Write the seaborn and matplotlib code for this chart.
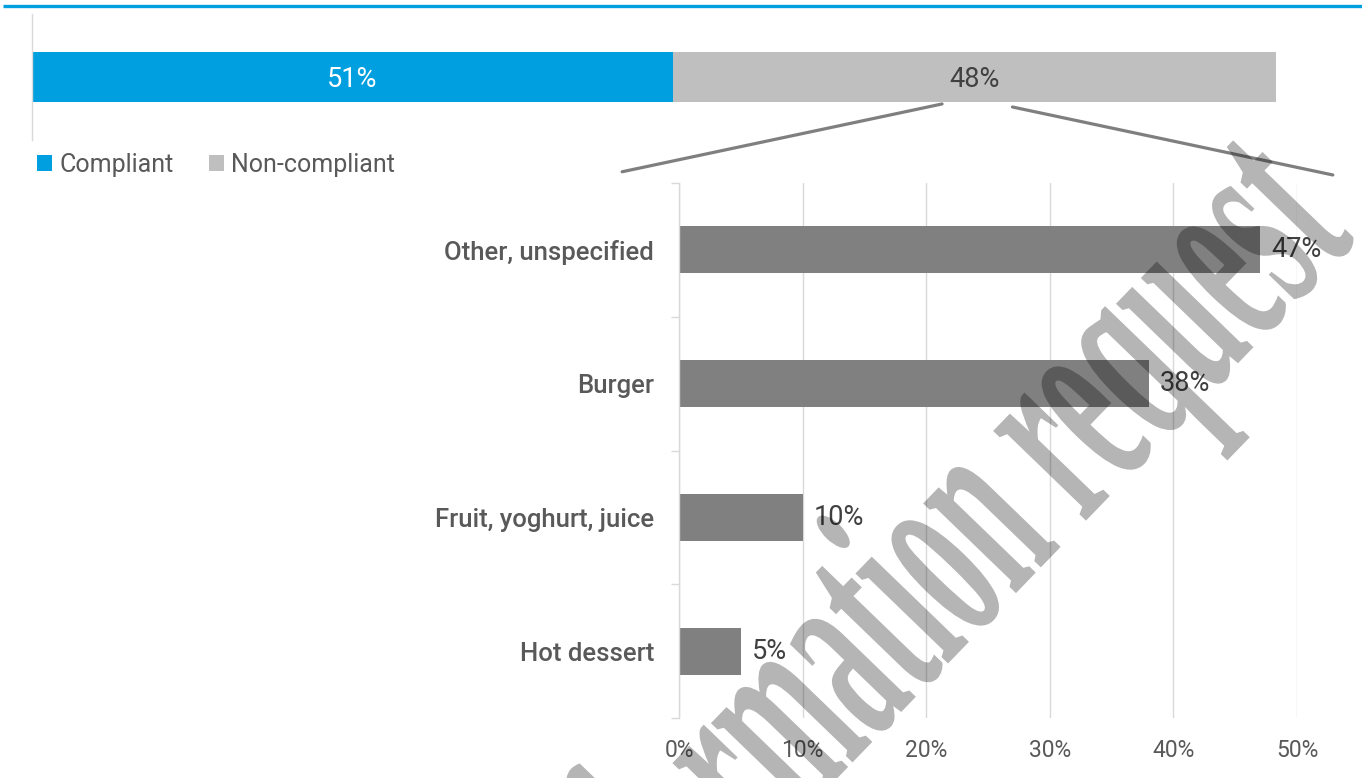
import matplotlib
matplotlib.use("Agg")
import matplotlib.pyplot as plt
import seaborn as sns
import pandas as pd
from matplotlib.patches import Patch, ConnectionPatch
from matplotlib.lines import Line2D
from matplotlib.ticker import FixedLocator, PercentFormatter
from matplotlib.transforms import Affine2D
from matplotlib.patheffects import AbstractPathEffect

# ---- data -------------------------------------------------------------
status_labels = ["Compliant", "Non-compliant"]
status_values = [51, 48]

categories = ["Other, unspecified", "Burger", "Fruit, yoghurt, juice", "Hot dessert"]
category_values = [47, 38, 10, 5]

x_ticks = [0, 10, 20, 30, 40, 50]
watermark = "Information request"

# ---- style ------------------------------------------------------------
BLUE = "#009fdf"
LIGHT_GRAY = "#bfbfbf"
BAR_GRAY = "#808080"
GRID = "#d9d9d9"
TEXT = "#595959"
DARK_TEXT = "#404040"

sns.set_theme(style="white")
plt.rcParams["font.family"] = ["Roboto", "DejaVu Sans"]


class TallGlyphs(AbstractPathEffect):
    """Draw text glyphs stretched vertically (about the baseline) for a
    condensed, poster-like look while keeping the text a Text artist."""

    def __init__(self, stretch):
        super().__init__()
        self._stretch = stretch

    def draw_path(self, renderer, gc, tpath, affine, rgbFace=None):
        renderer.draw_path(gc, tpath, Affine2D().scale(1, self._stretch) + affine,
                           rgbFace)


W, H = 1362, 778
fig = plt.figure(figsize=(W / 100, H / 100), dpi=100)
fig.patch.set_facecolor("white")


def fx(px):
    return px / W


def fy(py):
    return 1 - py / H


# thin accent rule across the top
fig.add_artist(Line2D([0.002, 1.0], [fy(6), fy(6)], transform=fig.transFigure,
                      color="#00a0e0", lw=2.4, solid_capstyle="butt"))

# ---- stacked overview bar --------------------------------------------
ax_top = fig.add_axes([fx(32), fy(140), (1289 - 32) / W, (140 - 14) / H])
top_df = pd.DataFrame({"group": ["All"],
                       "compliant": [status_values[0]],
                       "total": [sum(status_values)]})
sns.barplot(data=top_df, x="total", y="group", color=LIGHT_GRAY, saturation=1,
            width=0.4, linewidth=0, ax=ax_top)
sns.barplot(data=top_df, x="compliant", y="group", color=BLUE, saturation=1,
            width=0.4, linewidth=0, ax=ax_top)
ax_top.set_xlim(0, 100)
ax_top.set_ylim(0.5, -0.5)
ax_top.set_xticks([])
ax_top.set_yticks([])
ax_top.set_xlabel("")
ax_top.set_ylabel("")
for side in ("top", "right", "bottom"):
    ax_top.spines[side].set_visible(False)
ax_top.spines["left"].set_color(GRID)
ax_top.spines["left"].set_linewidth(1)

compliant_mid = status_values[0] / 2
noncompliant_mid = status_values[0] + status_values[1] / 2
ax_top.text(compliant_mid, 0.02, f"{status_values[0]}%", ha="center", va="center",
            color="white", fontsize=19.5)
ax_top.text(noncompliant_mid, 0.02, f"{status_values[1]}%", ha="center", va="center",
            color=DARK_TEXT, fontsize=19.5)

fig.legend(handles=[Patch(facecolor=BLUE, edgecolor="none"),
                    Patch(facecolor=LIGHT_GRAY, edgecolor="none")],
           labels=status_labels, loc="center left",
           bbox_to_anchor=(fx(37), fy(165)), ncol=2, frameon=False,
           fontsize=18, labelcolor=TEXT, handlelength=0.6, handleheight=0.6,
           handletextpad=0.3, columnspacing=1.4, borderpad=0, borderaxespad=0)

# ---- breakdown of the non-compliant share -----------------------------
ax = fig.add_axes([fx(679), fy(718), (1297 - 679) / W, (718 - 183) / H])
df = pd.DataFrame({"category": categories, "share": category_values})
sns.barplot(data=df, x="share", y="category", color=BAR_GRAY, saturation=1,
            width=0.35, linewidth=0, ax=ax)
ax.set_xlim(0, 50)
ax.set_ylim(3.5, -0.5)
ax.set_xlabel("")
ax.set_ylabel("")
ax.xaxis.set_major_locator(FixedLocator(x_ticks))
ax.xaxis.set_major_formatter(PercentFormatter(decimals=0))
ax.grid(axis="x", color=GRID, lw=1)
ax.grid(axis="y", visible=False)
ax.set_axisbelow(True)
ax.tick_params(axis="x", length=0, pad=15, labelsize=16.5, labelcolor=TEXT)
ax.tick_params(axis="y", which="major", length=0, pad=18, labelsize=18.5,
               labelcolor=TEXT)
ax.set_yticks([-0.5, 0.5, 1.5, 2.5, 3.5], minor=True)
ax.tick_params(axis="y", which="minor", length=6, color=GRID, width=1, left=True)
for lbl in ax.get_yticklabels():
    lbl.set_fontweight("medium")
for side in ("top", "right", "bottom"):
    ax.spines[side].set_visible(False)
ax.spines["left"].set_color(GRID)
ax.spines["left"].set_linewidth(1)

ax.bar_label(ax.containers[0], labels=[f"{v}%" for v in category_values],
             padding=8, fontsize=19.5, color=DARK_TEXT)

# ---- connectors from the non-compliant segment to the breakdown -------
for dx, dy, corner in ((-2.6, 0.214, (-0.092, 1.021)), (3.0, 0.238, (1.058, 1.015))):
    con = ConnectionPatch(xyA=(noncompliant_mid + dx, dy), coordsA=ax_top.transData,
                          xyB=corner, coordsB=ax.transAxes,
                          color="#7f7f7f", lw=2.3)
    fig.add_artist(con)

# ---- watermark --------------------------------------------------------
fig.text(fx(1357), fy(240), watermark, rotation=46, rotation_mode="anchor",
         ha="right", va="baseline", fontsize=90,
         family=["Liberation Serif", "DejaVu Serif"], fontweight="bold",
         color="black", alpha=0.29, zorder=10,
         path_effects=[TallGlyphs(2.25)])

fig.savefig("out.png", dpi=100, facecolor="white")
